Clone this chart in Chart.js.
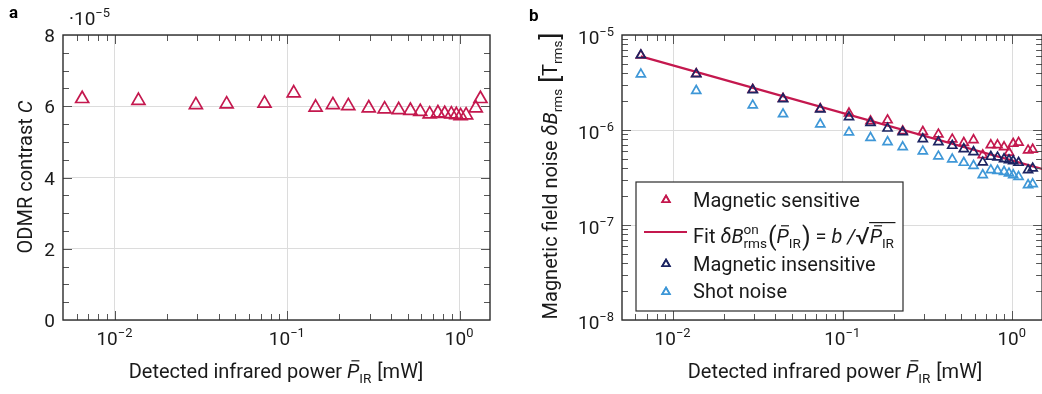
<!DOCTYPE html>
<html>
<head>
<meta charset="utf-8">
<script src="https://cdn.jsdelivr.net/npm/chart.js@4/dist/chart.umd.min.js"></script>
<style>
	html, body { margin: 0; padding: 0; background: #fff; overflow: hidden; }
	#wrap { position: relative; width: 1042px; height: 394px; overflow: hidden; }
	#wrap canvas { position: absolute; top: 0; }
</style>
</head>
<body>
<div id="wrap">
	<canvas id="chartA" width="521" height="394" style="left:0"></canvas>
	<canvas id="chartB" width="528" height="394" style="left:521px"></canvas>
</div>
<script>
'use strict';

// detected infrared power [mW], same for both panels
var power = [0.00646, 0.0137, 0.0295, 0.0445, 0.0738, 0.109, 0.146, 0.184, 0.226, 0.297, 0.367, 0.443,
	0.518, 0.591, 0.670, 0.748, 0.819, 0.895, 0.957, 1.013, 1.09, 1.24, 1.32];

// panel a: ODMR contrast
var contrast = [6.21e-5, 6.16e-5, 6.04e-5, 6.06e-5, 6.08e-5, 6.37e-5, 5.97e-5, 6.04e-5, 6.01e-5, 5.95e-5,
	5.92e-5, 5.90e-5, 5.88e-5, 5.85e-5, 5.78e-5, 5.81e-5, 5.79e-5, 5.78e-5, 5.76e-5, 5.73e-5, 5.75e-5,
	5.95e-5, 6.21e-5];

// panel b: magnetic field noise [T_rms]
var sensitive = [6.10e-6, 3.90e-6, 2.66e-6, 2.14e-6, 1.67e-6, 1.50e-6, 1.24e-6, 1.27e-6, 9.75e-7, 9.59e-7,
	9.01e-7, 7.98e-7, 7.35e-7, 7.85e-7, 5.45e-7, 6.95e-7, 6.95e-7, 6.62e-7, 5.80e-7, 7.18e-7, 7.38e-7,
	6.11e-7, 6.24e-7];
var insensitive = [6.15e-6, 3.88e-6, 2.64e-6, 2.12e-6, 1.65e-6, 1.37e-6, 1.19e-6, 1.04e-6, 9.52e-7, 8.04e-7,
	7.48e-7, 6.84e-7, 6.31e-7, 5.87e-7, 4.57e-7, 5.24e-7, 5.16e-7, 4.95e-7, 4.83e-7, 4.72e-7, 4.53e-7,
	3.79e-7, 3.95e-7];
var shotNoise = [3.86e-6, 2.59e-6, 1.82e-6, 1.47e-6, 1.15e-6, 9.46e-7, 8.30e-7, 7.48e-7, 6.62e-7, 5.97e-7,
	5.28e-7, 4.92e-7, 4.53e-7, 4.21e-7, 3.36e-7, 3.79e-7, 3.73e-7, 3.64e-7, 3.50e-7, 3.36e-7, 3.22e-7,
	2.64e-7, 2.70e-7];

// fit line end points (straight on log-log)
var fitPower = [0.00646, 1.5];
var fitNoise = [5.95e-6, 3.9e-7];

// tick labels
var xTickValues = [0.01, 0.1, 1];
var xTickExps = ['\u22122', '\u22121', '0'];
var yTicksA = [0, 2, 4, 6, 8];
var yTicksB = [1e-5, 1e-6, 1e-7, 1e-8];
var yExpsB = ['\u22125', '\u22126', '\u22127', '\u22128'];

var colors = {
	red : '#c4184e',
	navy : '#1c2462',
	blue : '#3e97d7',
	grid : '#dcdcdc',
	tick : '#555555',
	axis : '#2b2b2b',
	text : '#1a1a1a'
};
var fontFamily = "Roboto, 'Noto Sans', sans-serif";

function font(size, it, bold) {
	return (it ? 'italic ' : '') + (bold ? 'bold ' : '') + size + 'px ' + fontFamily;
}

function pts(ys) {
	return power.map(function(p, i) { return { x : p, y : ys[i] }; });
}

// ---- rich text (super/subscripts, bars) ----
function segWidth(ctx, s, size) {
	if (s.sup !== undefined || s.sub !== undefined) {
		ctx.font = font(size * 0.68, s.it);
		var a = s.sup ? ctx.measureText(s.sup).width : 0;
		var b = s.sub ? ctx.measureText(s.sub).width : 0;
		return Math.max(a, b) + 1;
	}
	ctx.font = font(size * (s.k || 1), s.it, s.b);
	return ctx.measureText(s.t).width;
}

function drawRich(ctx, segs, x, y, align, size, color) {
	var w = 0;
	segs.forEach(function(s) { w += segWidth(ctx, s, size); });
	var cx = align === 'center' ? x - w / 2 : (align === 'right' ? x - w : x);
	ctx.textAlign = 'left';
	ctx.textBaseline = 'alphabetic';
	ctx.fillStyle = color;
	ctx.strokeStyle = color;
	segs.forEach(function(s) {
		var sw = segWidth(ctx, s, size);
		if (s.sup !== undefined || s.sub !== undefined) {
			ctx.font = font(size * 0.68, s.it);
			if (s.sup) ctx.fillText(s.sup, cx, y - size * (s.sub ? 0.45 : 0.42));
			if (s.sub) ctx.fillText(s.sub, cx, y + size * 0.24);
		} else {
			ctx.font = font(size * (s.k || 1), s.it, s.b);
			ctx.fillText(s.t, cx, y + (s.dy || 0) * size);
		}
		if (s.bar) {
			ctx.lineWidth = 1.2;
			ctx.beginPath();
			ctx.moveTo(cx + size * 0.22, y - size * 0.86);
			ctx.lineTo(cx + size * 0.62, y - size * 0.86);
			ctx.stroke();
		}
		if (s.over) {
			ctx.lineWidth = 1.2;
			ctx.beginPath();
			ctx.moveTo(cx - 0.5, y - size * 1.02);
			ctx.lineTo(cx + sw + 0.5, y - size * 1.02);
			ctx.stroke();
		}
		cx += sw;
	});
}

function isDecade(v) {
	var l = Math.log10(v);
	return Math.abs(l - Math.round(l)) < 1e-6;
}

// frame and inward tick marks
function drawFrame(chart, xs, ys) {
	var ctx = chart.ctx, a = chart.chartArea;
	ctx.save();
	ctx.strokeStyle = colors.tick;
	ctx.lineWidth = 1;
	ctx.beginPath();
	xs.forEach(function(t) {
		var px = Math.round(chart.scales.x.getPixelForValue(t.v)) + 0.5;
		if (px < a.left + 1 || px > a.right - 1) return;
		ctx.moveTo(px, a.bottom); ctx.lineTo(px, a.bottom - t.len);
		ctx.moveTo(px, a.top); ctx.lineTo(px, a.top + t.len);
	});
	ys.forEach(function(t) {
		var py = Math.round(chart.scales.y.getPixelForValue(t.v)) + 0.5;
		if (py < a.top + 1 || py > a.bottom - 1) return;
		ctx.moveTo(a.left, py); ctx.lineTo(a.left + t.len, py);
		ctx.moveTo(a.right, py); ctx.lineTo(a.right - t.len, py);
	});
	ctx.stroke();
	ctx.strokeStyle = colors.axis;
	ctx.lineWidth = 1.4;
	ctx.strokeRect(a.left, a.top, a.right - a.left, a.bottom - a.top);
	ctx.restore();
}

function logTicks(min, max) {
	var out = [];
	for (var n = Math.floor(Math.log10(min)); n <= Math.ceil(Math.log10(max)); n++) {
		for (var k = 1; k <= 9; k++) {
			var v = k * Math.pow(10, n);
			if (v >= min && v <= max) out.push({ v : v, len : k === 1 ? 9 : 6 });
		}
	}
	return out;
}

function drawXTickLabels(chart) {
	var ctx = chart.ctx;
	xTickValues.forEach(function(v, i) {
		var px = chart.scales.x.getPixelForValue(v);
		drawRich(ctx, [ { t : '10' }, { sup : xTickExps[i] } ], px, 345, 'center', 19, colors.text);
	});
}

var xTitle = [ { t : 'Detected infrared power ' }, { t : 'P', it : true, bar : true }, { sub : 'IR' }, { t : ' [mW]' } ];

var xMin = 0.005, xMax = 1.5;

var framePluginA = {
	id : 'frameA',
	afterDatasetsDraw : function(chart) {
		var ctx = chart.ctx;
		var ys = [];
		for (var v = 0; v <= 8.001; v += 0.5) ys.push({ v : v * 1e-5, len : (v % 2 === 0) ? 9 : 6 });
		drawFrame(chart, logTicks(xMin, xMax), ys);
		ctx.save();
		yTicksA.forEach(function(v) {
			var py = chart.scales.y.getPixelForValue(v * 1e-5);
			drawRich(ctx, [ { t : String(v) } ], 55, py + 7, 'right', 19, colors.text);
		});
		drawRich(ctx, [ { t : '\u00b710' }, { sup : '\u22125' } ], 69, 25, 'left', 19, colors.text);
		drawXTickLabels(chart);
		drawRich(ctx, xTitle, 276, 378, 'center', 20, colors.text);
		ctx.translate(32, 177);
		ctx.rotate(-Math.PI / 2);
		drawRich(ctx, [ { t : 'ODMR contrast ' }, { t : 'C', it : true } ], 0, 0, 'center', 20, colors.text);
		ctx.restore();
		ctx.save();
		drawRich(ctx, [ { t : 'a', b : true } ], 9, 18, 'left', 17, '#000');
		ctx.restore();
	}
};

var framePluginB = {
	id : 'frameB',
	afterDatasetsDraw : function(chart) {
		var ctx = chart.ctx;
		drawFrame(chart, logTicks(xMin, xMax), logTicks(1e-8, 1e-5));
		ctx.save();
		yTicksB.forEach(function(v, i) {
			var py = chart.scales.y.getPixelForValue(v);
			drawRich(ctx, [ { t : '10' }, { sup : yExpsB[i] } ], 94, py + 9, 'right', 19, colors.text);
		});
		drawXTickLabels(chart);
		drawRich(ctx, xTitle, 314, 378, 'center', 20, colors.text);
		ctx.save();
		ctx.translate(36, 176);
		ctx.rotate(-Math.PI / 2);
		drawRich(ctx, [ { t : 'Magnetic field noise ' }, { t : '\u03b4B', it : true }, { sub : 'rms' }, { t : ' ' },
			{ t : '[', k : 1.3, dy : 0.12 }, { t : 'T' }, { sub : 'rms' }, { t : ']', k : 1.3, dy : 0.12 } ],
			0, 0, 'center', 20, colors.text);
		ctx.restore();
		drawRich(ctx, [ { t : 'b', b : true } ], 8, 21, 'left', 17, '#000');

		// legend
		ctx.fillStyle = '#fff';
		ctx.fillRect(115, 182, 267, 129);
		ctx.strokeStyle = colors.axis;
		ctx.lineWidth = 1.2;
		ctx.strokeRect(115, 182, 267, 129);
		var mark = function(col, y) {
			ctx.strokeStyle = col;
			ctx.lineWidth = 1.6;
			Chart.helpers.drawPoint(ctx, { pointStyle : 'triangle', radius : 4.5, borderWidth : 1.6 }, 145, y);
			ctx.stroke();
		};
		mark(colors.red, 200);
		ctx.strokeStyle = colors.red;
		ctx.lineWidth = 2;
		ctx.beginPath();
		ctx.moveTo(123, 232); ctx.lineTo(166, 232);
		ctx.stroke();
		mark(colors.navy, 264);
		mark(colors.blue, 292);
		drawRich(ctx, [ { t : 'Magnetic sensitive' } ], 172, 207, 'left', 20, colors.text);
		drawRich(ctx, [ { t : 'Fit ' }, { t : '\u03b4B', it : true }, { sup : 'on', sub : 'rms' },
			{ t : '(', k : 1.25, dy : 0.08 }, { t : 'P', it : true, bar : true }, { sub : 'IR' }, { t : ')', k : 1.25, dy : 0.08 },
			{ t : ' = ' }, { t : 'b', it : true }, { t : ' /', it : true }, { t : '\u221a', k : 1.2, dy : 0.06 },
			{ t : 'P', it : true, bar : true, over : true }, { sub : 'IR', over : true } ],
			172, 243, 'left', 20, colors.text);
		drawRich(ctx, [ { t : 'Magnetic insensitive' } ], 172, 271, 'left', 20, colors.text);
		drawRich(ctx, [ { t : 'Shot noise' } ], 172, 298, 'left', 20, colors.text);
		ctx.restore();
	}
};

function gridColor(c) {
	return (c.tick && isDecade(c.tick.value)) ? colors.grid : 'rgba(0,0,0,0)';
}

function markerSet(label, ys, col, r, order) {
	return {
		label : label,
		data : pts(ys),
		showLine : false,
		pointStyle : 'triangle',
		pointRadius : r,
		pointHoverRadius : r,
		pointBorderWidth : 1.7,
		borderColor : col,
		backgroundColor : 'rgba(0,0,0,0)',
		pointBackgroundColor : 'rgba(0,0,0,0)',
		order : order
	};
}

var common = {
	responsive : false,
	animation : false,
	events : [],
	plugins : { legend : { display : false }, tooltip : { enabled : false } }
};

// Panel a
new Chart(document.getElementById('chartA'), {
	type : 'scatter',
	data : {
		datasets : [ markerSet('ODMR contrast', contrast, colors.red, 7.5, 1) ]
	},
	options : Object.assign({}, common, {
		layout : { padding : { top : 35, right : 31, left : 0, bottom : 0 } },
		scales : {
			x : {
				type : 'logarithmic', min : xMin, max : xMax,
				grid : { color : gridColor, drawTicks : false },
				border : { display : false },
				ticks : { display : false },
				afterFit : function(s) { s.height = 74; }
			},
			y : {
				type : 'linear', min : 0, max : 8e-5,
				grid : { color : colors.grid, drawTicks : false },
				border : { display : false },
				ticks : { display : false, stepSize : 2e-5 },
				afterFit : function(s) { s.width = 63; }
			}
		}
	}),
	plugins : [ framePluginA ]
});

// Panel b (its right edge runs past the window, as in the source figure)
new Chart(document.getElementById('chartB'), {
	type : 'scatter',
	data : {
		datasets : [
			markerSet('Magnetic sensitive', sensitive, colors.red, 5.2, 4),
			{
				type : 'line',
				label : 'Fit',
				data : fitPower.map(function(p, i) { return { x : p, y : fitNoise[i] }; }),
				borderColor : colors.red,
				borderWidth : 2.2,
				pointRadius : 0,
				fill : false,
				order : 3
			},
			markerSet('Magnetic insensitive', insensitive, colors.navy, 5.2, 1),
			markerSet('Shot noise', shotNoise, colors.blue, 5.2, 2)
		]
	},
	options : Object.assign({}, common, {
		layout : { padding : { top : 35, right : 1, left : 0, bottom : 0 } },
		scales : {
			x : {
				type : 'logarithmic', min : xMin, max : xMax,
				grid : { color : gridColor, drawTicks : false },
				border : { display : false },
				ticks : { display : false },
				afterFit : function(s) { s.height = 74; }
			},
			y : {
				type : 'logarithmic', min : 1e-8, max : 1e-5,
				grid : { color : gridColor, drawTicks : false },
				border : { display : false },
				ticks : { display : false },
				afterFit : function(s) { s.width = 101; }
			}
		}
	}),
	plugins : [ framePluginB ]
});
</script>
</body>
</html>
